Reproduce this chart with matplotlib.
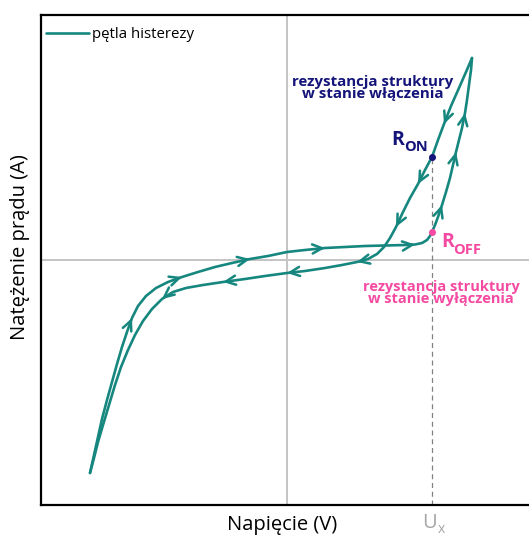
import matplotlib.pyplot as plt
import numpy as np

# schematic hysteresis loop, arbitrary units
# forward branch (bottom-left -> top-right)
up_v = [-1.97, -1.93, -1.89, -1.85, -1.80, -1.75, -1.70, -1.65, -1.60, -1.55, -1.49, -1.41,
        -1.31, -1.19, -1.05, -0.89, -0.72, -0.55, -0.37, -0.19, 0.00, 0.18, 0.38, 0.58,
        0.78, 0.98, 1.18, 1.28, 1.35, 1.40, 1.43, 1.45, 1.48, 1.51, 1.55, 1.59, 1.63,
        1.66, 1.69, 1.72, 1.75, 1.78, 1.80, 1.82, 1.84, 1.85]
up_i = [-2.13, -1.95, -1.77, -1.59, -1.40, -1.22, -1.04, -0.87, -0.72, -0.58, -0.46, -0.36,
        -0.28, -0.22, -0.17, -0.12, -0.07, -0.03, 0.01, 0.04, 0.08, 0.10, 0.12, 0.13,
        0.14, 0.145, 0.15, 0.155, 0.17, 0.20, 0.24, 0.28, 0.35, 0.43, 0.55, 0.68, 0.82,
        0.95, 1.08, 1.20, 1.32, 1.47, 1.60, 1.75, 1.90, 2.02]
# return branch (top-right -> bottom-left)
down_v = [1.85, 1.79, 1.72, 1.64, 1.57, 1.51, 1.45, 1.38, 1.31, 1.23, 1.16, 1.09, 1.03,
          0.97, 0.90, 0.81, 0.70, 0.55, 0.38, 0.18, 0.00, -0.22, -0.42, -0.64, -0.84,
          -1.01, -1.14, -1.25, -1.35, -1.44, -1.52, -1.59, -1.66, -1.72, -1.78, -1.84,
          -1.89, -1.93, -1.97]
down_i = [2.02, 1.88, 1.72, 1.54, 1.36, 1.20, 1.03, 0.90, 0.76, 0.62, 0.48, 0.33, 0.22,
          0.13, 0.06, 0.01, -0.02, -0.05, -0.08, -0.11, -0.13, -0.16, -0.19, -0.22, -0.25,
          -0.28, -0.32, -0.39, -0.49, -0.61, -0.75, -0.90, -1.07, -1.25, -1.45, -1.65,
          -1.82, -1.98, -2.13]
# where the arrowheads sit (indices into the branches)
up_arrows = [9, 14, 18, 22, 27, 34, 38, 41]
down_arrows = [4, 8, 11, 16, 20, 23, 27]

u_x = 1.45
r_on = 1.03
r_off = 0.28

teal = '#16877f'
navy = '#14147a'
pink = '#f54aa2'
grey = '#a6a6a6'

plt.rcParams['font.family'] = ['Open Sans', 'DejaVu Sans']

fig = plt.figure(figsize=(5.29, 5.36), dpi=100)
ax = fig.add_axes([41 / 529, 31 / 536, 1 - 41 / 529, 490 / 536])
ax.set_xlim(-2.46, 2.42)
ax.set_ylim(-2.45, 2.45)
ax.set_xticks([])
ax.set_yticks([])
for s in ['left', 'top', 'bottom']:
    ax.spines[s].set_linewidth(1.6)
ax.spines['right'].set_visible(False)

ax.axvline(0, color='#c4c4c4', lw=1.4, zorder=1)
ax.axhline(0, color='#c4c4c4', lw=1.4, zorder=1)
ax.plot([u_x, u_x], [-2.45, r_on], color='#808080', lw=0.9, ls=(0, (4, 3)), zorder=1)

ax.plot(up_v, up_i, color=teal, lw=1.9, solid_capstyle='round', solid_joinstyle='round',
        label='pętla histerezy', zorder=2)
ax.plot(down_v, down_i, color=teal, lw=1.9, solid_capstyle='round', solid_joinstyle='round',
        zorder=2)


def add_arrows(vs, is_, idxs):
    for k in idxs:
        dv = vs[k + 1] - vs[k - 1]
        di = is_[k + 1] - is_[k - 1]
        n = np.hypot(dv, di)
        ax.annotate('', xy=(vs[k], is_[k]),
                    xytext=(vs[k] - 0.05 * dv / n, is_[k] - 0.05 * di / n),
                    arrowprops=dict(arrowstyle='->,head_length=0.7,head_width=0.33',
                                    color=teal, lw=1.8, shrinkA=0, shrinkB=0),
                    zorder=3)


add_arrows(up_v, up_i, up_arrows)
add_arrows(down_v, down_i, down_arrows)

ax.plot(u_x, r_on, 'o', color=navy, ms=4, zorder=4)
ax.plot(u_x, r_off, 'o', color=pink, ms=4, zorder=4)

ax.text(0.86, 1.72, 'rezystancja struktury\nw stanie włączenia', color=navy,
        fontsize=10.8, fontweight='bold', ha='center', va='center', linespacing=0.88)
ax.text(1.17, 1.20, 'R', color=navy, fontsize=14, fontweight='bold', ha='right', va='center')
ax.text(1.17, 1.13, 'ON', color=navy, fontsize=10.5, fontweight='bold', ha='left', va='center')
ax.text(1.54, 0.18, 'R', color=pink, fontsize=14, fontweight='bold', ha='left', va='center')
ax.text(1.66, 0.10, 'OFF', color=pink, fontsize=10.5, fontweight='bold', ha='left', va='center')
ax.text(1.54, -0.33, 'rezystancja struktury\nw stanie wyłączenia', color=pink,
        fontsize=10.5, fontweight='bold', ha='center', va='center', linespacing=0.88)

ax.legend(loc='upper left', bbox_to_anchor=(0.0, 0.984), frameon=False, fontsize=10.8,
          handlelength=2.9, handletextpad=0.2, borderaxespad=0.0, borderpad=0.3)

fig.text(282 / 529, 6 / 536, 'Napięcie (V)', fontsize=14.5, ha='center', va='baseline')
fig.text(20 / 529, 289 / 536, 'Natężenie prądu (A)', fontsize=14.5, ha='center', va='center',
         rotation=90)
fig.text(429 / 529, 8 / 536, 'U', fontsize=14.5, color=grey, ha='center', va='baseline')
fig.text(438 / 529, 3 / 536, 'x', fontsize=10, color=grey, ha='left', va='baseline')

fig.savefig('out.png', dpi=100)
